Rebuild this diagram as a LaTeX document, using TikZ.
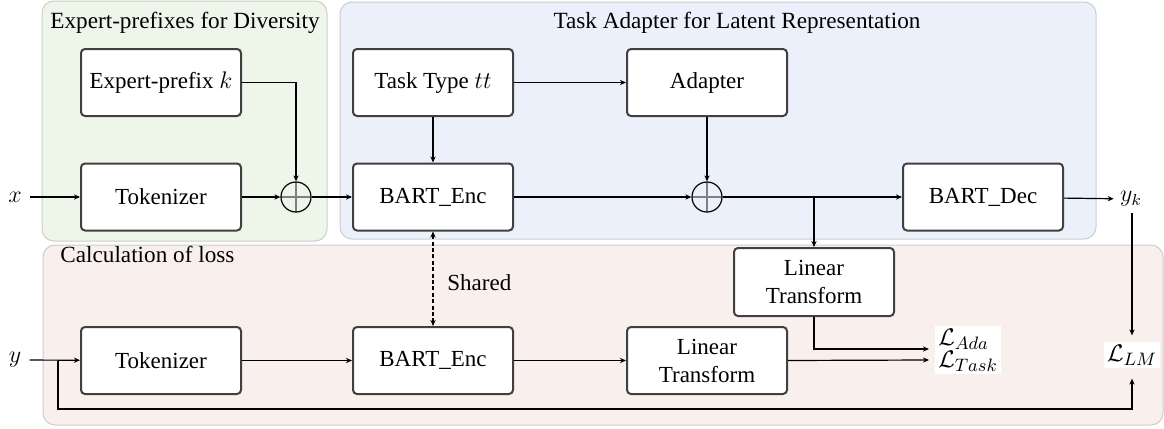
\documentclass[tikz,border=0pt]{standalone}
\usepackage{fontspec}
\setmainfont{LiberationSerif}[Extension=.ttf, UprightFont=*-Regular, ItalicFont=*-Italic, BoldFont=*-Bold, BoldItalicFont=*-BoldItalic]
\usetikzlibrary{arrows.meta,calc}
\definecolor{greenbg}{RGB}{238,245,233}
\definecolor{bluebg}{RGB}{235,240,250}
\definecolor{pinkbg}{RGB}{249,240,237}
\definecolor{panelline}{RGB}{205,205,205}
\definecolor{boxline}{RGB}{64,64,64}
\begin{document}
\begin{tikzpicture}[x=0.5pt,y=-0.5pt,
 panel/.style={fill=#1, draw=panelline, line width=0.5pt, rounded corners=6pt},
 blk/.style={draw=boxline, line width=1pt, fill=white, rounded corners=2pt, minimum width=80pt, minimum height=33.5pt, inner sep=0pt, align=center, font=\fontsize{11.5}{14}\selectfont},
 arr/.style={-{Stealth[length=3pt,width=2.6pt]}, line width=0.6pt},
 darr/.style={{Stealth[length=3pt,width=2.6pt]}-{Stealth[length=3pt,width=2.6pt]}, line width=0.6pt, dashed, dash pattern=on 2pt off 1.2pt},
 sumnode/.style={circle, draw, line width=0.6pt, minimum size=15pt, inner sep=0pt, path picture={\draw[gray, line width=0.6pt] (path picture bounding box.north) -- (path picture bounding box.south) (path picture bounding box.west) -- (path picture bounding box.east);}},
 lbl/.style={inner sep=4pt, font=\fontsize{11.5}{13}\selectfont},
 ttl/.style={font=\fontsize{11.6}{13}\selectfont, inner sep=0pt}
]
\useasboundingbox (0,0) rectangle (1164,429);
% panels
\path[panel=greenbg] (42,1) rectangle (327,241);
\path[panel=bluebg] (340,2) rectangle (1096,239);
\path[panel=pinkbg] (43,245) rectangle (1163,425);
% titles
\node[ttl, anchor=base west] (t1) at (50,28) {Expert-prefixes for Diversity};
\node[ttl, anchor=base] (t2) at (737,28) {Task Adapter for Latent Representation};
\node[ttl, anchor=base west] (t3) at (60,262) {Calculation of loss};
% upper blocks
\node[blk] (exp) at (161,82.5) {Expert-prefix $k$};
\node[blk] (tok1) at (161,197) {Tokenizer};
\node[sumnode] (plus1) at (296,197) {};
\node[blk] (enc1) at (433,197) {BART\_Enc};
\node[blk] (task) at (433,82.5) {Task Type $tt$};
\node[blk] (adp) at (707,82.5) {Adapter};
\node[sumnode] (plus2) at (707,197) {};
\node[blk] (dec) at (983,197) {BART\_Dec};
\node[lbl] (xl) at (15,197) {$x$};
\node[lbl, inner sep=3pt] (yk) at (1131,199) {$y_k$};
% lower blocks
\node[blk, minimum height=34pt] (lt1) at (814,282) {Linear\\Transform};
\node[blk] (lt2) at (707,360.5) {Linear\\Transform};
\node[blk] (enc2) at (433,360.5) {BART\_Enc};
\node[blk] (tok2) at (161,360.5) {Tokenizer};
\node[lbl] (yl) at (15,360) {$y$};
\node[lbl, anchor=west, inner sep=2pt] (shared) at (443,283) {Shared};
\node[fill=white, inner sep=1.5pt, align=left, font=\fontsize{13}{11}\selectfont] (lbox) at (968,350) {$\mathcal{L}_{Ada}$\\$\mathcal{L}_{Task}$};
\node[fill=white, inner sep=1.5pt, font=\fontsize{13}{14}\selectfont] (llm) at (1132,355) {$\mathcal{L}_{LM}$};
% coordinates
\coordinate (ada) at (929,349);
\coordinate (tsk) at (929,360);
\coordinate (br) at (lt1.north |- plus2);
\coordinate (ybr) at (58,361);
\coordinate (bot) at (58,409);
% connectors upper
\draw[arr] (xl) -- (tok1);
\draw[arr] (exp.east) -| (plus1.north);
\draw[arr] (tok1) -- (plus1);
\draw[arr] (plus1) -- (enc1);
\draw[arr] (task) -- (adp);
\draw[arr] (task) -- (enc1);
\draw[arr] (adp) -- (plus2);
\draw[arr] (enc1) -- (plus2);
\draw[arr] (plus2) -- (dec);
\draw[arr] (br) -- (lt1.north);
\draw[arr] (dec) -- (yk);
\draw[arr, shorten >=3pt] (yk.south -| llm.north) -- (llm.north);
% connectors lower
\draw[darr] (enc1) -- (enc2);
\draw[arr] (yl) -- (tok2);
\draw[arr] (tok2) -- (enc2);
\draw[arr] (enc2) -- (lt2);
\draw[arr] (lt2.east) -- (tsk);
\draw[arr] (lt1.south) |- (ada);
\draw[arr, shorten >=5pt] (ybr) -- (bot) -| (llm.south);
\end{tikzpicture}
\end{document}
